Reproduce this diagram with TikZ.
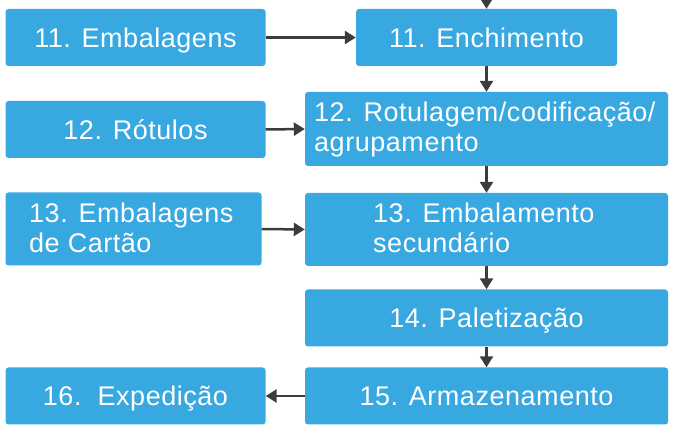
\documentclass[tikz,border=0pt]{standalone}
\usepackage{fontspec}
\setmainfont{Liberation Sans}[LetterSpace=2]
\usetikzlibrary{arrows.meta}
\definecolor{boxblue}{HTML}{38A8E0}
\definecolor{arrowgray}{HTML}{3C3C3C}
\begin{document}
\begin{tikzpicture}[x=1pt,y=-1pt,
  box/.style={fill=boxblue, draw=none, rounded corners=3pt, inner sep=0pt, text=white,
    text height=19.5pt, text depth=0pt, font=\fontsize{27}{30}\selectfont},
  txt/.style={text=white, inner sep=0pt, align=left, font=\fontsize{27}{30}\selectfont},
  conn/.style={draw=arrowgray, line width=2.5pt, -{Triangle[length=11pt,width=13pt]}}]
\useasboundingbox (0,0) rectangle (673,430);
% left column
\node[box, minimum width=260, minimum height=57] (emb) at (135.5,37.5) {11. Embalagens};
\node[box, minimum width=260, minimum height=57] (rotl) at (135.5,129.5) {12. Rótulos};
\node[box, minimum width=256, minimum height=73] (cart) at (133.5,229) {};
\node[txt, anchor=west] (cartt) at (29,228.2) {13. Embalagens\\de Cartão};
\node[box, minimum width=260, minimum height=57] (exp) at (135.5,396) {16.\ \ Expedição};
% right column
\node[box, minimum width=261, minimum height=57] (ench) at (486.5,37.5) {11. Enchimento};
\node[box, minimum width=363, minimum height=74] (rot) at (486.5,129) {};
\node[txt, anchor=west] (rott) at (314,129.7) {12. Rotulagem/codificação/\\agrupamento};
\node[box, minimum width=363, minimum height=73] (embs) at (486.5,229.5) {};
\node[txt, anchor=west] (embst) at (373,228.2) {13. Embalamento\\secundário};
\node[box, minimum width=363, minimum height=57] (pal) at (486.5,318) {14. Paletização};
\node[box, minimum width=363, minimum height=57] (arm) at (486.5,396) {15. Armazenamento};
% connectors
\coordinate (top) at (486.5,-10);
\draw[conn] (top) -- (ench.north);
\draw[conn] (emb.east) -- (ench.west);
\draw[conn] (ench.south) -- (rot.north);
\draw[conn] (rotl.east) -- (rot.west);
\draw[conn] (rot.south) -- (embs.north);
\draw[conn] (cart.east) -- (embs.west);
\draw[conn] (embs.south) -- (pal.north);
\draw[conn] (pal.south) -- (arm.north);
\draw[conn] (arm.west) -- (exp.east);
\end{tikzpicture}
\end{document}
